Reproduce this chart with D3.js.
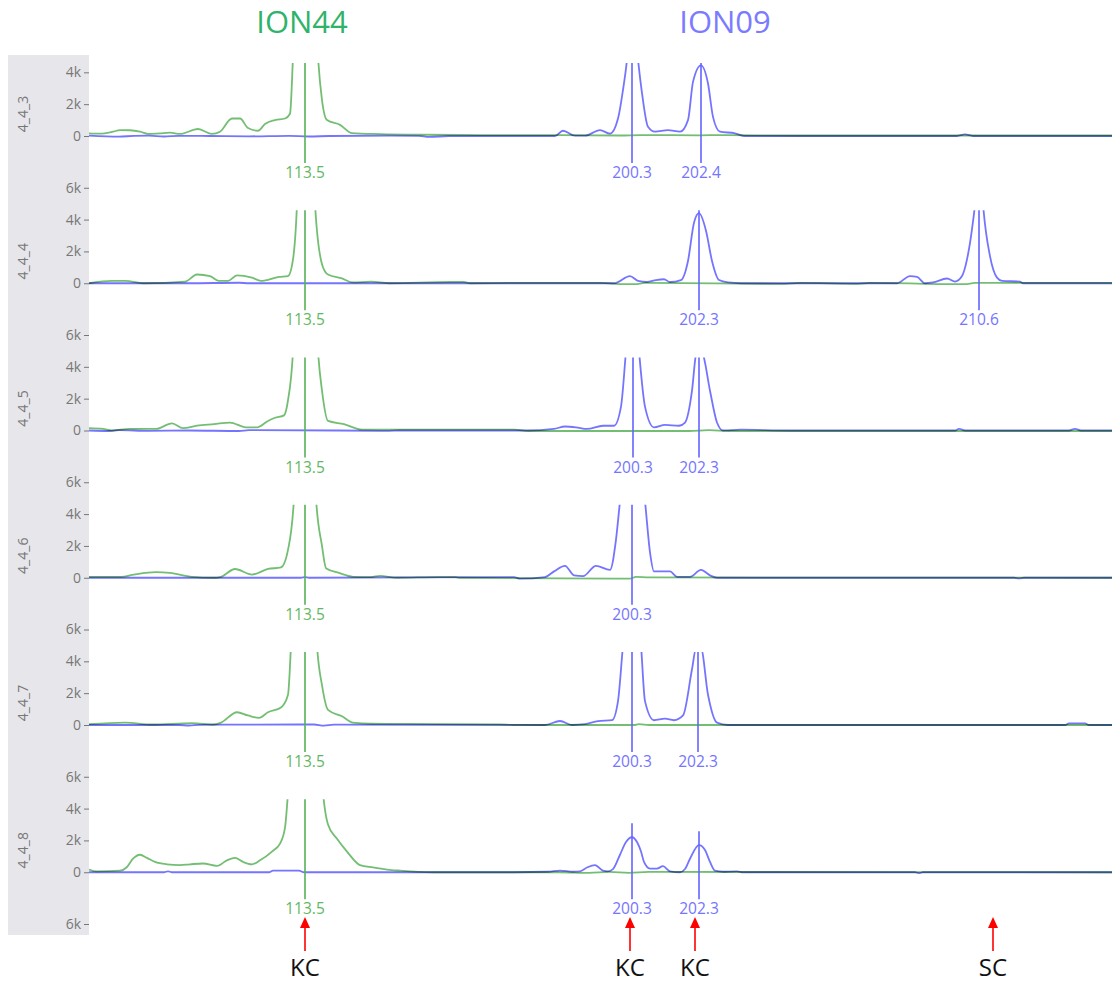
<!DOCTYPE html>
<html><head><meta charset="utf-8">
<script src="https://cdn.jsdelivr.net/npm/d3@7"></script>
<style>body{margin:0;background:#fff}svg{display:block}</style>
</head><body>
<script>
// ---------- DATA ----------
const panelNames = ["4_4_3","4_4_4","4_4_5","4_4_6","4_4_7","4_4_8"];
const dyeNames = ["ION44","ION09"];
const tickValues = [0,2000,4000,6000];
const arrowScans = [216, 541, 606, 904];
const arrowLabels = ["KC","KC","KC","SC"];

// traces: [scan, RFU]
const green1 = [[0,170],[11,150],[24,270],[31,370],[41,360],[51,270],[59,130],[71,170],[81,210],[91,130],[109,440],[123,130],[131,270],[143,1100],[151,1100],[159,500],[169,330],[176,750],[186,1000],[196,1100],[201,1400],[204,5000],[209,14000],[216,22000],[223,14000],[229,5000],[233,2250],[238,1000],[251,700],[263,180],[291,120],[331,80],[391,60],[424,50],[471,60],[531,30],[551,60],[611,40],[631,60],[711,30],[811,30],[1023,30]];
const blue1 = [[0,20],[30,-40],[45,10],[60,20],[75,-30],[90,10],[120,0],[160,-20],[200,10],[220,-30],[240,0],[300,20],[330,10],[340,-60],[360,0],[466,0],[474,330],[486,20],[496,20],[511,370],[521,150],[529,1100],[534,2900],[538,4800],[543,9000],[549,4800],[553,2700],[559,580],[566,270],[579,370],[591,270],[599,1000],[604,3400],[612,4440],[619,3300],[624,1200],[631,270],[646,170],[656,0],[868,0],[876,100],[884,0],[1023,0]];

const green2 = [[0,0],[23,150],[36,150],[56,0],[96,100],[108,550],[121,450],[130,150],[139,150],[148,500],[163,350],[172,150],[190,400],[199,450],[204,1500],[208,5000],[212,14000],[216,22000],[221,14000],[226,5000],[233,1200],[239,550],[253,300],[264,50],[282,100],[300,0],[362,80],[375,80],[381,0],[424,20],[511,20],[536,-60],[546,-60],[556,20],[696,-40],[711,20],[769,-40],[781,20],[876,-60],[886,20],[1023,20]];
const blue2 = [[0,0],[100,0],[150,30],[160,0],[525,0],[541,450],[549,150],[558,80],[567,200],[575,250],[581,80],[592,200],[599,1400],[605,3800],[610,4400],[617,3300],[623,1400],[630,200],[639,50],[652,0],[808,0],[821,450],[828,400],[836,0],[844,50],[858,300],[866,100],[873,450],[878,1500],[883,3400],[886,5000],[890,9000],[894,5000],[901,1700],[908,350],[913,150],[931,100],[934,0],[1023,0]];

const green3 = [[0,150],[14,100],[23,0],[41,100],[67,100],[83,450],[94,150],[108,300],[125,400],[141,500],[157,200],[168,200],[179,600],[186,800],[195,950],[199,1900],[204,5000],[209,14000],[216,22000],[223,14000],[229,5000],[233,2500],[239,600],[255,400],[273,50],[425,50],[440,-30],[600,-30],[620,20],[640,-30],[1023,-30]];
const blue3 = [[0,0],[20,-30],[30,20],[60,-20],[100,0],[150,-30],[160,20],[250,0],[300,-20],[310,0],[438,0],[465,100],[476,250],[487,200],[498,100],[514,300],[525,300],[532,1500],[537,5000],[544,10000],[550,5000],[556,1500],[565,200],[576,350],[590,300],[596,500],[603,2500],[607,4800],[610,5200],[614,4800],[621,2500],[628,500],[634,0],[652,50],[700,0],[866,0],[870,100],[876,0],[980,0],[986,100],[992,0],[1023,0]];

const green4 = [[0,60],[32,60],[45,200],[67,350],[81,300],[103,60],[125,0],[132,60],[146,550],[163,200],[179,550],[192,650],[199,1750],[205,5000],[210,14000],[216,22000],[222,14000],[227,5000],[233,2000],[237,600],[250,300],[264,60],[282,40],[291,120],[308,0],[349,40],[366,40],[370,0],[527,-60],[541,-60],[547,60],[560,20],[1023,0]];
const blue4 = [[0,0],[212,0],[216,40],[220,0],[425,40],[431,-60],[456,40],[465,400],[476,750],[485,150],[494,100],[507,750],[521,500],[527,2400],[531,4800],[537,8000],[543,10000],[550,8000],[556,4800],[561,1600],[565,400],[581,400],[588,60],[601,60],[612,500],[621,150],[628,0],[925,0],[930,-40],[935,0],[1023,0]];

const green5 = [[0,50],[36,150],[63,30],[103,120],[125,30],[132,150],[148,800],[159,600],[170,450],[179,800],[192,1100],[199,1900],[202,5000],[208,14000],[216,22000],[222,14000],[228,5000],[233,2500],[239,950],[253,550],[264,150],[282,80],[308,70],[411,30],[424,0],[545,0],[550,60],[560,0],[1023,0]];
const blue5 = [[0,0],[90,0],[100,-30],[110,10],[210,30],[225,30],[235,-40],[245,20],[456,0],[471,250],[483,0],[496,50],[509,250],[523,300],[529,1500],[534,5000],[543,10000],[552,5000],[556,1500],[565,300],[576,400],[585,300],[594,600],[603,3500],[607,4800],[612,4800],[619,1900],[628,150],[639,0],[976,0],[980,100],[996,100],[1000,0],[1023,0]];

const green6 = [[0,170],[8,50],[31,100],[38,330],[44,850],[51,1100],[58,900],[66,650],[78,500],[91,450],[101,500],[114,550],[128,400],[138,750],[146,900],[154,650],[163,500],[171,750],[183,1300],[191,1800],[196,2800],[199,5000],[207,14000],[217,22000],[226,14000],[234,5000],[239,3000],[248,2100],[258,1300],[271,450],[284,300],[298,170],[311,100],[344,0],[470,0],[500,-40],[520,20],[540,-40],[560,20],[1023,0]];
const blue6 = [[0,0],[75,0],[79,60],[83,0],[180,0],[184,100],[210,100],[215,0],[424,0],[459,30],[471,100],[484,30],[491,60],[498,300],[506,450],[514,100],[519,60],[524,200],[531,1100],[537,1900],[543,2200],[548,1900],[552,1300],[555,650],[561,230],[568,230],[574,380],[581,60],[591,0],[596,200],[601,850],[610,1700],[616,1400],[621,650],[626,100],[634,30],[648,60],[654,0],[826,0],[830,-60],[834,0],[1023,0]];

const greenTraces = [green1,green2,green3,green4,green5,green6];
const blueTraces = [blue1,blue2,blue3,blue4,blue5,blue6];

// peak calls: [scan, size label, dye index]
const peaks1 = [[216,"113.5",0],[543,"200.3",1],[612,"202.4",1]];
const peaks2 = [[216,"113.5",0],[610,"202.3",1],[890,"210.6",1]];
const peaks3 = [[216,"113.5",0],[544,"200.3",1],[610,"202.3",1]];
const peaks4 = [[216,"113.5",0],[543,"200.3",1]];
const peaks5 = [[216,"113.5",0],[543,"200.3",1],[609,"202.3",1]];
const peaks6 = [[216,"113.5",0],[543,"200.3",1],[610,"202.3",1]];
const peakTables = [peaks1,peaks2,peaks3,peaks4,peaks5,peaks6];

// ---------- DRAW ----------
const W = 1112, H = 983;
const lineColors = ["#5bb35b","#5c5cff"];
const markColors = ["#56b156","#6464ff"];
const labelColors = ["#62b862","#7474ff"];
const titleColors = ["#2fb36a","#7b7bff"];
const font = "'Open Sans','Noto Sans',Arial,sans-serif";

const svg = d3.select("body").append("svg").attr("width",W).attr("height",H);

svg.append("rect").attr("x",8).attr("y",55).attr("width",81).attr("height",880).attr("fill","#e7e7eb");

const x = d3.scaleLinear().domain([0,1023]).range([89,1112]);
const y0Of = i => 136 + i*147.25;
const yOf = i => d3.scaleLinear().domain([0,6000]).range([y0Of(i), y0Of(i)-95.5]);

// titles
svg.selectAll("text.title").data(dyeNames).join("text").attr("class","title")
  .attr("x",(d,i)=> i===0?302:725).attr("y",25).attr("text-anchor","middle").attr("dominant-baseline","middle")
  .attr("font-family",font).attr("font-size",31).attr("fill",(d,i)=>titleColors[i]).text(d=>d);

// axes (7 rows; last one only partially visible)
for (let i=0;i<7;i++){
  const y = yOf(i);
  const vals = tickValues.filter(v => y(v)>=55 && y(v)<=935);
  const g = svg.append("g").attr("transform","translate(89,0)")
    .call(d3.axisLeft(y).tickValues(vals).tickSize(5).tickPadding(3)
      .tickFormat(v => v===0 ? "0" : (v/1000)+"k"));
  g.select(".domain").remove();
  g.selectAll("line").attr("stroke","#777");
  g.selectAll("text").attr("font-family",font).attr("font-size",14).attr("fill","#777");
}

panelNames.forEach((name,i)=>{
  const y = yOf(i), y0 = y0Of(i);
  const clipTop = y0 - 73;
  svg.append("text").attr("transform",`translate(24,${y0-22}) rotate(-90)`)
    .attr("text-anchor","middle").attr("dominant-baseline","middle")
    .attr("font-family",font).attr("font-size",14).attr("fill","#777").text(name);

  const cid = "clip"+i;
  svg.append("clipPath").attr("id",cid).append("rect")
    .attr("x",89).attr("y",clipTop).attr("width",W-89).attr("height",87);
  const g = svg.append("g").attr("clip-path",`url(#${cid})`).style("isolation","isolate");
  const line = d3.line().x(d=>x(d[0])).y(d=>y(d[1])).curve(d3.curveMonotoneX);
  g.append("path").datum(blueTraces[i]).attr("d",line).attr("fill","none")
    .attr("stroke",lineColors[1]).attr("stroke-width",1.8).attr("stroke-opacity",0.85);
  g.append("path").datum(greenTraces[i]).attr("d",line).attr("fill","none")
    .attr("stroke",lineColors[0]).attr("stroke-width",1.8).attr("stroke-opacity",0.85)
    .style("mix-blend-mode","multiply");

  peakTables[i].forEach(([s,lab,dye])=>{
    const tr = dye===0 ? greenTraces[i] : blueTraces[i];
    const peakVal = d3.max(tr.filter(p=>Math.abs(p[0]-s)<=3), p=>p[1]);
    const top = Math.max(clipTop, y(peakVal)-14);
    svg.append("line").attr("x1",x(s)).attr("x2",x(s)).attr("y1",top).attr("y2",y0+27)
      .attr("stroke",markColors[dye]).attr("stroke-width",1.6);
    svg.append("text").attr("x",x(s)).attr("y",y0+38).attr("text-anchor","middle")
      .attr("dominant-baseline","middle").attr("font-family",font).attr("font-size",15.5)
      .attr("fill",labelColors[dye]).text(lab);
  });
});

// red arrows + annotations
arrowScans.forEach((s,k)=>{
  const ax = x(s);
  svg.append("line").attr("x1",ax).attr("x2",ax).attr("y1",951).attr("y2",925)
    .attr("stroke","#ff0000").attr("stroke-width",1.6);
  svg.append("path").attr("d",`M${ax},917 L${ax-5},928 L${ax+5},928 Z`).attr("fill","#ff0000");
  svg.append("text").attr("x",ax).attr("y",976).attr("text-anchor","middle")
    .attr("font-family",font).attr("font-size",24).attr("fill","#111").text(arrowLabels[k]);
});
</script>
</body></html>
